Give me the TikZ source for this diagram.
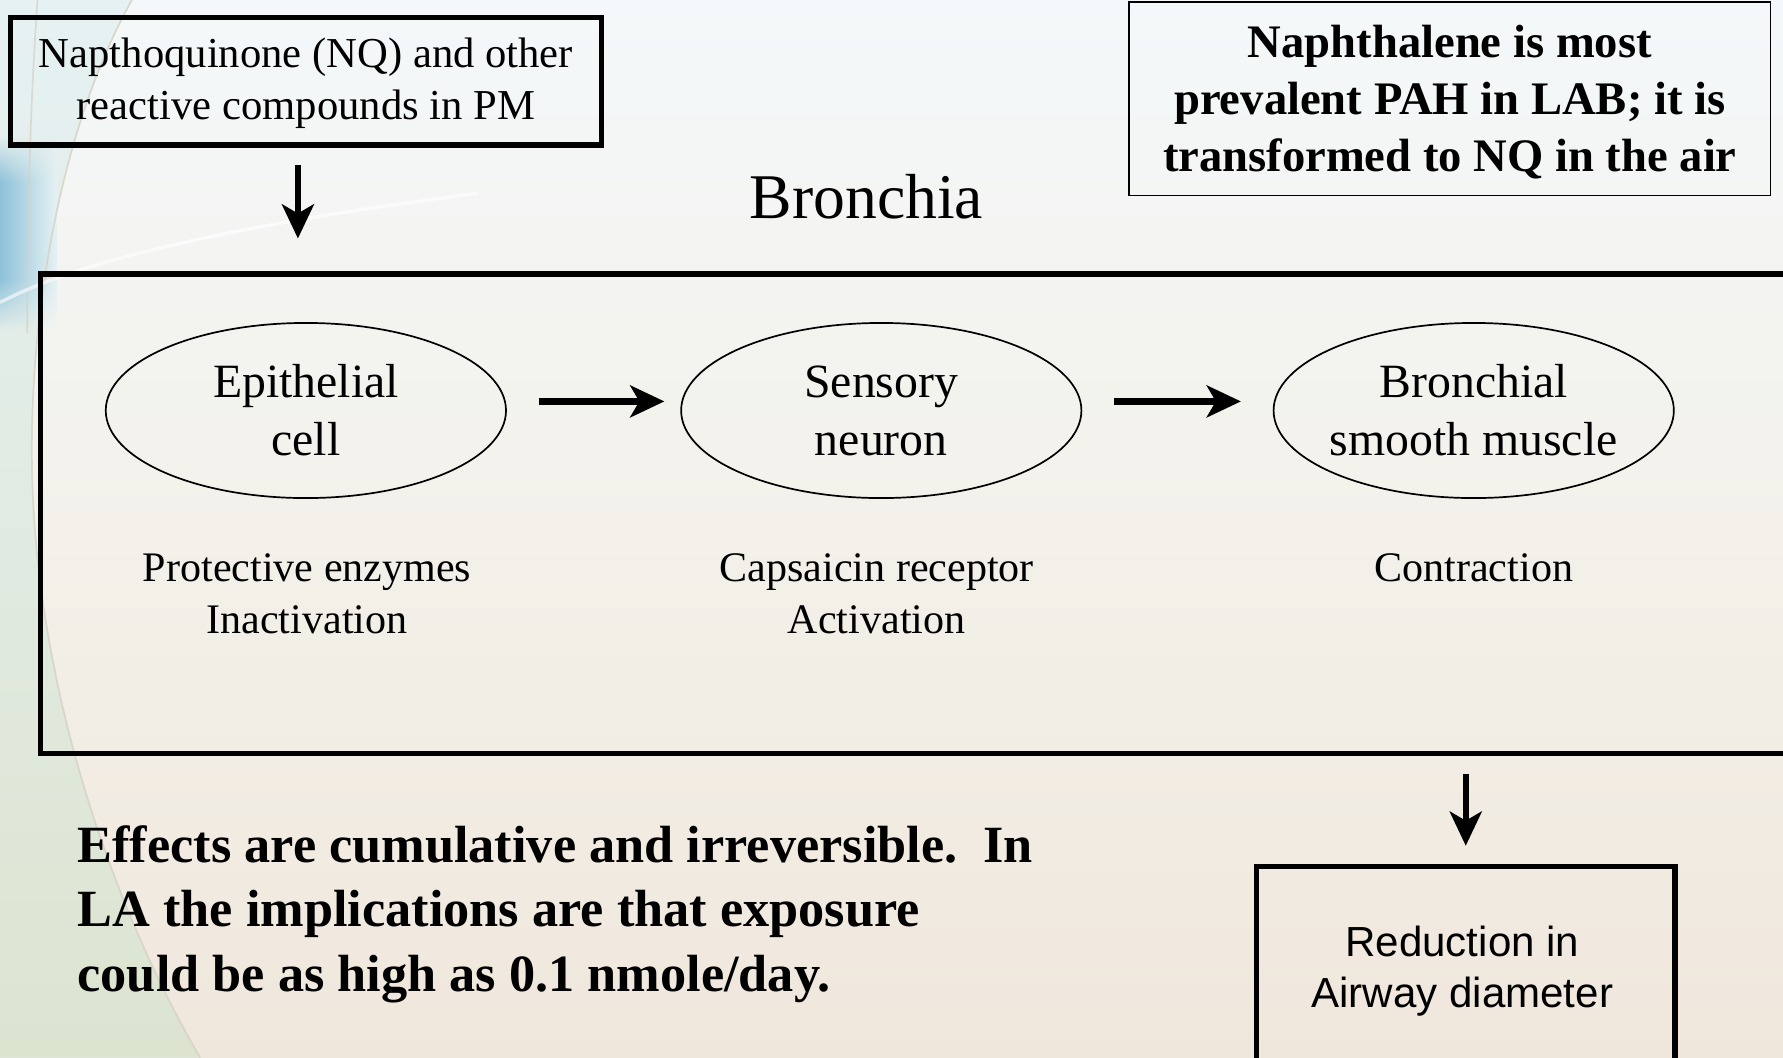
\documentclass[tikz,border=0pt]{standalone}
\usepackage{fontspec}
\setmainfont{Liberation Serif}
\newfontfamily\arialfont{Liberation Sans}
\usetikzlibrary{arrows.meta,shapes.geometric,fadings}
\definecolor{bgtop}{HTML}{F4F8FA}
\definecolor{bgmid}{HTML}{F3F1EA}
\definecolor{bgbot}{HTML}{F0E7DC}
\definecolor{leftblue}{HTML}{8EC2DA}
\definecolor{lefttop}{HTML}{E6F1F3}
\definecolor{leftmid}{HTML}{DDD9C8}
\definecolor{leftbot}{HTML}{DCE4D0}
\definecolor{curvecol}{HTML}{D5D1C4}
\tikzset{
  thickbox/.style={draw=black, line width=4.5pt, rectangle, inner sep=0pt},
  thinbox/.style={draw=black, line width=1.5pt, rectangle, inner sep=0pt},
  cellshape/.style={draw=black, line width=1.5pt, ellipse, minimum width=352pt, minimum height=154pt, inner xsep=-14pt, inner ysep=0pt, align=center,
     font=\fontsize{42}{51}\selectfont},
  arr/.style={line width=5.5pt, -{Stealth[length=30pt, width=28pt, inset=8pt]}},
  lbl/.style={align=center, inner sep=0pt, font=\fontsize{37}{46}\selectfont},
  bluepatch/.style={left color=leftblue, right color=lefttop},
}
\begin{document}
\begin{tikzpicture}[x=1pt,y=-1pt]
\useasboundingbox (0,0) rectangle (1568,930);
\clip (0,0) rectangle (1568,930);
% background
\shade[top color=bgtop, bottom color=bgbot, middle color=bgmid] (0,0) rectangle (1568,930);
\shade[top color=lefttop, middle color=leftmid, bottom color=leftbot]
  (116,0) .. controls (60,100) and (28,250) .. (28,396) .. controls (28,600) and (100,800) .. (176,930) -- (0,930) -- (0,0) -- cycle;
\shade[bluepatch, path fading=north] (0,120) rectangle (50,160);
\shade[bluepatch] (0,160) rectangle (50,245);
\shade[bluepatch, path fading=south] (0,245) rectangle (50,290);
\draw[curvecol, line width=1.5pt, opacity=0.8] (116,0) .. controls (60,100) and (28,250) .. (28,396) .. controls (28,600) and (100,800) .. (176,930);
\draw[curvecol, line width=1.5pt, opacity=0.7] (33,0) .. controls (26,100) and (24,200) .. (24,293);
\draw[white, line width=3pt, opacity=0.6] (0,266) .. controls (50,240) and (150,205) .. (420,170);

% nodes
\node[thickbox, minimum width=520pt, minimum height=112pt] (nq) at (269,71.5) {};
\node[lbl, font=\fontsize{37.5}{46}\selectfont] (nqtext) at (269,73) {Napthoquinone (NQ) and other\\reactive compounds in PM};

\node[thinbox, minimum width=564pt, minimum height=170pt] (nap) at (1275,87) {};
\node[align=center, inner sep=0pt, font=\bfseries\fontsize{41}{50}\selectfont] (naptext) at (1275,90) {Naphthalene is most\\prevalent PAH in LAB; it is\\transformed to NQ in the air};

\node[inner sep=0pt, font=\fontsize{56}{60}\selectfont] (title) at (762,173) {Bronchia};

\node[thickbox, minimum width=1544pt, minimum height=422pt] (frame) at (808,452) {};

\node[cellshape] (epi) at (269,361) {Epithelial\\cell};
\node[cellshape] (sen) at (775,361) {Sensory\\neuron};
\node[cellshape] (bsm) at (1296,361) {Bronchial\\smooth muscle};

\node[lbl] (l1) at (270,522) {Protective enzymes\\Inactivation};
\node[lbl] (l2) at (771,522) {Capsaicin receptor\\Activation};
\node[lbl] (l3) at (1296,499) {Contraction};

\node[thickbox, minimum width=368pt, minimum height=190pt] (red) at (1289,857) {};
\node[align=center, inner sep=0pt, font=\arialfont\fontsize{37}{45}\selectfont] (redtext) at (1286,854) {Reduction in\\Airway diameter};

\node[align=left, anchor=west, inner sep=0pt, font=\bfseries\fontsize{46}{56.5}\selectfont] (effects) at (68,804)
 {Effects are cumulative and irreversible.\ \ In\\LA the implications are that exposure\\could be as high as 0.1 nmole/day.};

% connectors
\draw[arr, shorten <=15pt, shorten >=29pt] ([xshift=-7pt]nq.south) -- ([xshift=-7pt]nq.south |- frame.north);
\draw[arr, shorten <=28pt, shorten >=14pt] ([yshift=8pt]epi.east) -- ([yshift=8pt]sen.west);
\draw[arr, shorten <=28pt, shorten >=28pt] ([yshift=8pt]sen.east) -- ([yshift=8pt]bsm.west);
\draw[arr, shorten <=15pt, shorten >=16pt] (red.north |- frame.south) -- (red.north);
\end{tikzpicture}
\end{document}
